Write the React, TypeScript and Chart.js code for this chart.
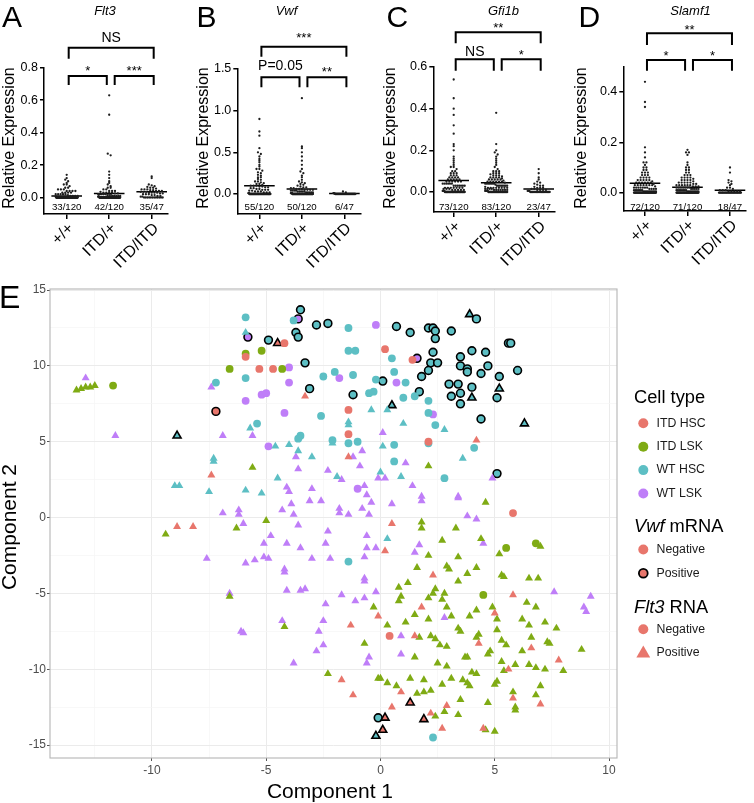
import React, { useEffect, useRef } from 'react';
import { Chart, registerables } from 'chart.js';
Chart.register(...registerables);

const FONT = '"Liberation Sans", Arial, Helvetica, sans-serif';
Chart.defaults.font.family = FONT;

// ---------------- Panels A-D : single-cell relative expression ----------------
const GENOTYPES = ['+/+', 'ITD/+', 'ITD/ITD'];

const A_WT = [0.14, 0.12, 0.11, 0.1, 0.09, 0.08, 0.08, 0.07, 0.06, 0.06, 0.05, 0.05, 0.05, 0.04, 0.04, 0.04, 0.04, 0.03, 0.03, 0.03, 0.03, 0.02, 0.02, 0.02, 0.02, 0.02, 0.015, 0.01, 0.01, 0.01, 0.01, 0.005, 0.005];
const A_HET = [0.63, 0.51, 0.27, 0.26, 0.16, 0.14, 0.12, 0.1, 0.09, 0.08, 0.07, 0.06, 0.06, 0.05, 0.05, 0.04, 0.04, 0.04, 0.035, 0.03, 0.03, 0.03, 0.03, 0.025, 0.025, 0.02, 0.02, 0.02, 0.02, 0.02, 0.015, 0.015, 0.015, 0.01, 0.01, 0.01, 0.01, 0.01, 0.005, 0.005, 0.005, 0.005];
const A_HOM = [0.13, 0.12, 0.08, 0.075, 0.07, 0.065, 0.06, 0.06, 0.055, 0.05, 0.05, 0.05, 0.045, 0.045, 0.04, 0.04, 0.04, 0.035, 0.035, 0.035, 0.03, 0.03, 0.03, 0.03, 0.025, 0.025, 0.02, 0.02, 0.02, 0.015, 0.015, 0.01, 0.01, 0.005, 0.005];
const A_ZEROS = [87, 78, 12];
const A_MEANS = [0.01, 0.025, 0.035];
const A_COUNTS = ['33/120', '42/120', '35/47'];
const A_TICKS = [0, 0.2, 0.4, 0.6, 0.8];

const B_WT = [0.9, 0.75, 0.7, 0.55, 0.5, 0.48, 0.45, 0.42, 0.4, 0.38, 0.35, 0.33, 0.3, 0.3, 0.28, 0.26, 0.25, 0.23, 0.22, 0.2, 0.2, 0.18, 0.17, 0.15, 0.15, 0.14, 0.13, 0.12, 0.12, 0.11, 0.1, 0.1, 0.1, 0.09, 0.09, 0.08, 0.08, 0.07, 0.07, 0.06, 0.06, 0.05, 0.05, 0.05, 0.04, 0.04, 0.03, 0.03, 0.03, 0.02, 0.02, 0.02, 0.01, 0.01, 0.01];
const B_HET = [1.15, 0.57, 0.55, 0.5, 0.45, 0.4, 0.35, 0.3, 0.27, 0.25, 0.22, 0.2, 0.17, 0.15, 0.14, 0.13, 0.12, 0.11, 0.1, 0.09, 0.08, 0.08, 0.07, 0.07, 0.06, 0.06, 0.06, 0.05, 0.05, 0.05, 0.05, 0.04, 0.04, 0.04, 0.04, 0.03, 0.03, 0.03, 0.03, 0.03, 0.02, 0.02, 0.02, 0.02, 0.02, 0.01, 0.01, 0.01, 0.01, 0.01];
const B_HOM = [0.03, 0.02, 0.01, 0.01, 0.005, 0.005];
const B_ZEROS = [65, 70, 41];
const B_MEANS = [0.1, 0.06, 0.005];
const B_COUNTS = ['55/120', '50/120', '6/47'];
const B_TICKS = [0, 0.5, 1.0, 1.5];

const C_WT = [0.54, 0.45, 0.4, 0.37, 0.32, 0.28, 0.23, 0.22, 0.2, 0.17, 0.16, 0.15, 0.14, 0.13, 0.12, 0.12, 0.11, 0.1, 0.1, 0.09, 0.09, 0.09, 0.08, 0.08, 0.08, 0.07, 0.07, 0.07, 0.07, 0.06, 0.06, 0.06, 0.06, 0.06, 0.05, 0.05, 0.05, 0.05, 0.05, 0.05, 0.04, 0.04, 0.04, 0.04, 0.04, 0.04, 0.03, 0.03, 0.03, 0.03, 0.03, 0.03, 0.03, 0.02, 0.02, 0.02, 0.02, 0.02, 0.02, 0.02, 0.015, 0.015, 0.015, 0.01, 0.01, 0.01, 0.01, 0.01, 0.005, 0.005, 0.005, 0.005, 0.005];
const C_HET = [0.38, 0.23, 0.2, 0.19, 0.18, 0.17, 0.16, 0.15, 0.14, 0.13, 0.12, 0.11, 0.1, 0.1, 0.1, 0.09, 0.09, 0.09, 0.085, 0.08, 0.08, 0.08, 0.075, 0.07, 0.07, 0.07, 0.07, 0.065, 0.06, 0.06, 0.06, 0.06, 0.06, 0.055, 0.05, 0.05, 0.05, 0.05, 0.05, 0.05, 0.045, 0.04, 0.04, 0.04, 0.04, 0.04, 0.04, 0.04, 0.035, 0.03, 0.03, 0.03, 0.03, 0.03, 0.03, 0.03, 0.03, 0.025, 0.02, 0.02, 0.02, 0.02, 0.02, 0.02, 0.02, 0.02, 0.015, 0.015, 0.015, 0.015, 0.01, 0.01, 0.01, 0.01, 0.01, 0.01, 0.01, 0.005, 0.005, 0.005, 0.005, 0.005, 0.005];
const C_HOM = [0.11, 0.09, 0.07, 0.06, 0.05, 0.045, 0.04, 0.035, 0.03, 0.03, 0.025, 0.02, 0.02, 0.02, 0.015, 0.015, 0.01, 0.01, 0.01, 0.01, 0.005, 0.005, 0.005];
const C_ZEROS = [47, 37, 24];
const C_MEANS = [0.055, 0.045, 0.015];
const C_COUNTS = ['73/120', '83/120', '23/47'];
const C_TICKS = [0, 0.2, 0.4, 0.6];

const D_WT = [0.44, 0.36, 0.34, 0.18, 0.16, 0.14, 0.12, 0.12, 0.11, 0.1, 0.1, 0.09, 0.09, 0.08, 0.08, 0.08, 0.07, 0.07, 0.07, 0.06, 0.06, 0.06, 0.06, 0.05, 0.05, 0.05, 0.05, 0.05, 0.045, 0.04, 0.04, 0.04, 0.04, 0.04, 0.04, 0.035, 0.03, 0.03, 0.03, 0.03, 0.03, 0.03, 0.03, 0.025, 0.02, 0.02, 0.02, 0.02, 0.02, 0.02, 0.02, 0.015, 0.015, 0.015, 0.015, 0.01, 0.01, 0.01, 0.01, 0.01, 0.01, 0.01, 0.005, 0.005, 0.005, 0.005, 0.005, 0.005, 0.005, 0.005, 0.005, 0.005];
const D_HET = [0.17, 0.16, 0.16, 0.15, 0.12, 0.11, 0.1, 0.1, 0.09, 0.09, 0.08, 0.08, 0.07, 0.07, 0.07, 0.06, 0.06, 0.06, 0.06, 0.055, 0.05, 0.05, 0.05, 0.05, 0.045, 0.04, 0.04, 0.04, 0.04, 0.04, 0.035, 0.035, 0.03, 0.03, 0.03, 0.03, 0.03, 0.03, 0.025, 0.025, 0.025, 0.02, 0.02, 0.02, 0.02, 0.02, 0.02, 0.02, 0.02, 0.015, 0.015, 0.015, 0.015, 0.015, 0.01, 0.01, 0.01, 0.01, 0.01, 0.01, 0.01, 0.01, 0.005, 0.005, 0.005, 0.005, 0.005, 0.005, 0.005, 0.005, 0.005];
const D_HOM = [0.1, 0.08, 0.05, 0.045, 0.04, 0.035, 0.03, 0.02, 0.02, 0.015, 0.01, 0.01, 0.01, 0.005, 0.005, 0.005, 0.005, 0.005];
const D_ZEROS = [48, 49, 29];
const D_MEANS = [0.038, 0.022, 0.01];
const D_COUNTS = ['72/120', '71/120', '18/47'];
const D_TICKS = [0, 0.2, 0.4];

// ---------------- Panel E : 2-D embedding of single cells ----------------
// [Component 1, Component 2]; CIRC = Flt3 RNA negative, TRI = Flt3 RNA positive, _VWF = Vwf mRNA positive
const ITD_HSC_CIRC = [[-5.9, 10.6], [-4.2, 11.5], [-5.3, 9.8], [-4.7, 9.8], [-1.4, 7.1], [-1.4, 5.5], [0.2, 11.1], [1.4, 10.4], [2.1, 5.0], [5.8, 0.3], [0.4, -7.8]];
const ITD_HSC_CIRC_VWF = [[-7.2, 7.0]];
const ITD_HSC_TRI = [[-8.9, -0.6], [-8.2, -0.6], [-7.4, 2.8], [-3.3, 8.0], [-1.4, 4.0], [4.2, 5.1], [0.5, -0.4], [-1.3, -7.1], [-0.1, -6.5], [-1.7, -10.7], [-1.2, -11.7], [0.2, -2.2], [2.3, -3.8], [5.8, -5.1], [1.8, -5.9], [5.0, -6.3], [1.5, -7.8], [4.3, -8.3], [6.6, -8.6], [5.6, -10.0], [7.8, -9.4], [0.9, -11.5], [7.0, -12.3], [5.8, -11.9], [0.5, -12.5], [2.9, -12.4], [2.2, -12.9], [2.7, -13.9], [4.5, -13.9]];
const ITD_HSC_TRI_VWF = [[-4.5, 11.5], [1.3, -12.2], [1.9, -13.3], [0.2, -13.2], [0.1, -14.0]];

const ITD_LSK_CIRC = [[-11.7, 8.7], [-6.6, 9.8], [-5.9, 10.8], [-5.2, 11.0], [-4.3, 9.8], [5.5, -2.0], [6.8, -1.7], [4.5, -5.1]];
const ITD_LSK_TRI = [[-13.3, 8.4], [-13.1, 8.5], [-12.9, 8.6], [-12.7, 8.6], [-12.5, 8.7], [-9.4, -1.1], [-6.3, -0.7], [-5.6, 3.3], [-5.0, -0.2], [2.1, 3.4], [4.6, 1.0], [1.8, -0.3], [1.8, -0.7], [3.3, -0.7], [-0.3, -5.9], [-6.6, -5.2], [-4.2, -7.2], [-0.7, -8.3], [-2.3, -10.3], [-0.1, -10.6], [2.7, -1.5], [4.4, -1.4], [7.0, -1.9], [5.2, -2.4], [2.1, -2.5], [3.4, -2.6], [1.6, -3.3], [2.9, -3.2], [3.0, -3.4], [4.2, -3.3], [3.8, -3.7], [5.3, -3.8], [5.4, -3.9], [6.5, -4.0], [6.9, -4.0], [1.2, -4.3], [0.8, -4.6], [0.9, -5.2], [0.8, -5.5], [3.4, -4.2], [2.4, -4.7], [2.3, -5.0], [2.8, -5.0], [2.7, -5.4], [2.1, -5.3], [2.9, -5.9], [0.3, -7.1], [1.1, -6.9], [1.5, -6.4], [2.1, -6.7], [3.1, -6.5], [3.9, -6.5], [4.2, -6.1], [4.9, -5.9], [5.1, -6.7], [6.2, -6.7], [6.4, -5.6], [6.8, -5.9], [6.5, -7.1], [7.2, -6.9], [7.7, -7.3], [3.4, -7.3], [3.5, -7.5], [5.1, -7.4], [1.7, -7.9], [2.2, -7.8], [2.4, -8.0], [2.6, -8.4], [2.9, -8.5], [4.2, -7.9], [4.3, -7.7], [5.3, -8.1], [5.5, -8.4], [4.7, -9.0], [4.8, -8.8], [6.2, -8.8], [6.6, -7.9], [7.3, -8.2], [7.4, -8.3], [8.8, -8.7], [1.5, -9.2], [2.5, -9.6], [2.9, -9.8], [3.7, -9.2], [3.8, -9.2], [4.0, -10.2], [4.2, -10.3], [5.3, -9.5], [5.4, -10.1], [5.9, -9.7], [6.5, -9.7], [6.8, -9.9], [7.2, -10.0], [8.0, -10.1], [0.0, -10.6], [0.3, -10.9], [0.7, -11.1], [1.3, -10.6], [1.9, -10.7], [1.6, -11.6], [1.9, -11.5], [2.2, -11.4], [2.7, -11.0], [3.1, -10.6], [3.6, -10.7], [3.8, -10.9], [3.9, -11.1], [5.0, -11.0], [5.1, -10.8], [7.0, -11.1], [6.8, -11.7], [5.8, -11.5], [5.9, -12.5], [5.9, -12.7], [4.7, -12.2], [3.5, -12.0], [2.8, -12.8], [2.4, -13.1], [3.4, -13.0], [4.6, -14.0], [5.0, -14.1]];

const WT_HSC_CIRC = [[-7.2, 8.9], [-5.9, 13.2], [-5.9, 9.2], [-5.4, 6.2], [-3.8, 13.0], [-3.5, 5.4], [-3.6, 5.2], [-2.6, 6.7], [-2.5, 9.3], [-2.0, 9.6], [-2.1, 5.1], [-1.4, 12.5], [-1.4, 11.0], [-1.1, 11.0], [-1.2, 9.4], [-1.4, 4.9], [-1.0, 5.0], [-0.2, 9.1], [-0.5, 8.2], [-0.3, 8.3], [0.5, 10.5], [0.6, 9.6], [1.1, 8.9], [1.0, 7.9], [1.5, 8.0], [2.1, 7.7], [2.1, 6.9], [2.4, 6.1], [0.6, 4.8], [2.1, 4.9], [4.1, 4.6], [0.6, 3.7], [2.8, 2.6], [-1.4, -2.9], [2.3, -14.5]];
const WT_HSC_CIRC_VWF = [[-4.9, 11.7], [-3.5, 13.7], [-3.7, 12.2], [-3.6, 11.9], [-3.3, 10.2], [-3.1, 8.5], [-2.8, 12.7], [-2.3, 12.8], [-1.2, 8.1], [0.7, 12.6], [1.3, 12.2], [2.1, 12.5], [2.3, 12.5], [2.4, 12.3], [2.4, 11.8], [3.1, 12.3], [4.2, 13.1], [5.6, 11.5], [5.7, 11.5], [2.3, 10.9], [2.2, 10.2], [2.5, 10.2], [2.1, 9.7], [1.8, 9.3], [1.7, 8.3], [3.5, 10.6], [3.5, 10.0], [3.8, 9.8], [3.8, 9.6], [4.0, 11.0], [4.6, 10.9], [4.4, 9.5], [4.7, 10.0], [5.2, 9.3], [6.0, 9.7], [3.0, 8.8], [3.4, 8.8], [3.1, 8.0], [3.5, 8.2], [3.5, 7.5], [4.0, 8.6], [5.1, 7.9], [4.4, 6.5], [5.1, 2.9], [0.1, 9.0], [-0.1, -13.2]];
const WT_HSC_TRI = [[-9.0, 2.1], [-8.8, 2.1], [-7.3, 3.9], [-7.3, 3.7], [-7.5, 1.7], [-5.9, 12.2], [-5.7, 5.9], [-5.9, 1.8], [-5.2, 1.6], [-4.0, 4.8], [-4.6, 4.7], [-3.6, 4.4], [-3.0, 4.0], [-4.5, 2.6], [-2.1, 4.9], [-1.9, 2.7], [-1.4, 6.3], [-1.4, 6.1], [-0.4, 7.1], [0.3, 7.1], [2.8, 5.8], [1.0, 6.2], [0.1, 4.7], [3.6, 3.9], [0.9, 2.7], [0.0, 3.0], [0.3, -1.4]];
const WT_HSC_TRI_VWF = [[-8.9, 5.4], [3.9, 13.4], [4.0, 7.9], [5.2, 8.5], [6.3, 6.2], [0.5, 7.4], [-0.2, -14.4]];

const WT_LSK_CIRC = [[-5.9, 7.7], [-4.0, 9.9], [-4.0, 8.9], [-5.2, 8.1], [-5.0, 8.2], [-4.2, 6.9], [-4.9, 4.7], [-1.8, 9.2], [-1.0, 1.9], [-0.2, 12.7], [0.7, 8.9], [2.3, 6.8]];
const WT_LSK_CIRC_VWF = [[-5.8, 11.9], [-3.6, 13.1], [1.6, 10.5]];
const WT_LSK_TRI = [[-12.9, 9.2], [-11.6, 5.4], [-7.4, 8.6], [-6.9, 5.4], [-6.9, 0.3], [-6.2, 0.5], [-6.2, 0.2], [-6.0, -0.4], [-5.6, 5.4], [-4.8, -1.2], [-3.7, 4.0], [-3.6, 3.2], [-4.1, 2.0], [-4.0, 1.7], [-3.0, 1.9], [-3.1, 1.1], [-2.6, 1.1], [-4.3, 0.5], [-3.9, 0.9], [-3.8, 0.2], [-3.6, -0.5], [-2.3, -0.9], [-2.3, 3.1], [-1.7, 2.5], [-1.8, 0.6], [-1.8, 0.3], [-1.2, 4.0], [-0.8, 4.4], [-0.9, 3.4], [-0.7, 2.1], [-0.6, 1.5], [-1.4, 0.2], [-0.8, 0.6], [-0.5, 0.2], [-0.6, -1.2], [-0.1, 2.6], [0.1, 5.6], [1.1, 3.6], [0.2, 2.6], [4.9, 2.6], [1.4, 2.1], [1.8, 1.4], [1.8, 1.1], [3.4, 1.4], [3.4, 1.3], [0.5, 0.9], [3.8, 0.1], [4.2, -0.1], [-0.4, 1.0], [-7.6, -2.7], [-5.9, -3.0], [-5.5, -2.8], [-5.1, -2.6], [-4.9, -2.7], [-5.1, -1.7], [-4.1, -1.7], [-3.5, -2.0], [-3.0, -2.7], [-2.2, -2.7], [-2.4, -1.7], [-4.2, -3.4], [-4.2, -3.6], [-4.1, -4.8], [-3.5, -4.8], [-3.3, -4.7], [-2.4, -5.7], [-1.7, -5.1], [-1.1, -5.5], [-0.7, -5.3], [-0.2, -4.9], [-0.7, -4.0], [-0.7, -4.2], [-0.7, -2.6], [-0.6, -2.0], [-0.2, -2.0], [-6.6, -5.0], [-6.0, -7.6], [-6.1, -7.5], [-4.3, -6.8], [-2.7, -7.5], [-2.5, -6.8], [-2.5, -8.4], [-2.8, -8.8], [-3.8, -9.6], [-0.5, -9.2], [-0.6, -9.6], [1.5, -2.3], [1.7, -1.8], [4.5, -1.7], [7.6, -4.9], [9.2, -5.2], [8.9, -5.9], [9.0, -6.2], [2.8, -6.6], [0.9, -7.8], [0.9, -9.0]];

const CELL_TYPES = ['ITD HSC', 'ITD LSK', 'WT HSC', 'WT LSK'];
const CELL_COLORS = ['#E8766C', '#7FAB14', '#5DBFC4', '#BF7EF8'];
const E_X_MAJOR = [-10, -5, 0, 5, 10];
const E_X_MINOR = [-12.5, -7.5, -2.5, 2.5, 7.5];
const E_Y_MAJOR = [-15, -10, -5, 0, 5, 10, 15];
const E_Y_MINOR = [-12.5, -7.5, -2.5, 2.5, 7.5, 12.5];

// ---------------- helpers ----------------
const CAT_PX = 42.5;

function swarm(values: number[], zeros: number, cat: number, pxY: number) {
  const all = values.concat(new Array(zeros).fill(0));
  const bins = new Map<number, number[]>();
  for (const v of all) {
    const b = Math.round((v * pxY) / 2.4);
    if (!bins.has(b)) bins.set(b, []);
    bins.get(b)!.push(v);
  }
  const pts: { x: number; y: number }[] = [];
  bins.forEach((arr) => {
    const n = arr.length;
    const sp = n > 1 ? Math.min(2.9, 22 / (n - 1)) : 0;
    arr.forEach((v, k) => pts.push({ x: cat + ((k - (n - 1) / 2) * sp) / CAT_PX, y: v }));
  });
  return pts;
}

type Bracket = { a: number; b: number; y: number; leg: number; t: string; ty: number };
type TopCfg = {
  left: number; width: number; axisLeft: number; top: number; bottom: number;
  xMin: number; yMin: number; yMax: number; ticks: number[];
  groups: number[][]; zeros: number[]; means: number[]; counts: string[];
  letter: string; letterX: number; gene: string; geneX: number; titleX: number;
  brackets: Bracket[];
};

const TOP_PANELS: TopCfg[] = [
  {
    left: 0, width: 188, axisLeft: 44, top: 67.7, bottom: 214, xMin: -0.534, yMin: -0.1017, yMax: 0.8, ticks: A_TICKS,
    groups: [A_WT, A_HET, A_HOM], zeros: A_ZEROS, means: A_MEANS, counts: A_COUNTS,
    letter: 'A', letterX: 2, gene: 'Flt3', geneX: 105, titleX: 10,
    brackets: [
      { a: 0, b: 2, y: 47.7, leg: 11, t: 'NS', ty: 38 },
      { a: 0, b: 1, y: 76, leg: 9, t: '*', ty: 68 },
      { a: 1, b: 2, y: 76, leg: 9, t: '***', ty: 68 },
    ],
  },
  {
    left: 190, width: 185, axisLeft: 47.3, top: 69, bottom: 214, xMin: -0.52, yMin: -0.24, yMax: 1.5, ticks: B_TICKS,
    groups: [B_WT, B_HET, B_HOM], zeros: B_ZEROS, means: B_MEANS, counts: B_COUNTS,
    letter: 'B', letterX: 6.5, gene: 'Vwf', geneX: 96.5, titleX: 14,
    brackets: [
      { a: 0, b: 2, y: 46.7, leg: 10, t: '***', ty: 35 },
      { a: 0, b: 1, y: 77.3, leg: 10, t: 'P=0.05', ty: 66 },
      { a: 1, b: 2, y: 77.3, leg: 10, t: '**', ty: 69 },
    ],
  },
  {
    left: 380, width: 185, axisLeft: 53.3, top: 67, bottom: 212, xMin: -0.48, yMin: -0.096, yMax: 0.6, ticks: C_TICKS,
    groups: [C_WT, C_HET, C_HOM], zeros: C_ZEROS, means: C_MEANS, counts: C_COUNTS,
    letter: 'C', letterX: 6.5, gene: 'Gfi1b', geneX: 123.5, titleX: 11,
    brackets: [
      { a: 0, b: 2, y: 32.3, leg: 11, t: '**', ty: 25 },
      { a: 0, b: 1, y: 59.3, leg: 11.4, t: 'NS', ty: 52.5 },
      { a: 1, b: 2, y: 59.3, leg: 11.4, t: '*', ty: 52 },
    ],
  },
  {
    left: 565, width: 189, axisLeft: 58.3, top: 66.7, bottom: 211, xMin: -0.51, yMin: -0.0726, yMax: 0.5, ticks: D_TICKS,
    groups: [D_WT, D_HET, D_HOM], zeros: D_ZEROS, means: D_MEANS, counts: D_COUNTS,
    letter: 'D', letterX: 13.5, gene: 'Slamf1', geneX: 125.5, titleX: 17,
    brackets: [
      { a: 0, b: 2, y: 33.3, leg: 11.7, t: '**', ty: 27 },
      { a: 0, b: 1, y: 60, leg: 10.7, t: '*', ty: 53 },
      { a: 1, b: 2, y: 60, leg: 10.7, t: '*', ty: 53 },
    ],
  },
];

function buildTop(cfg: TopCfg): any {
  const xMax = 2.38;
  const plotW = (xMax - cfg.xMin) * CAT_PX;
  const pxY = (cfg.bottom - cfg.top) / (cfg.yMax - cfg.yMin);
  const datasets: any[] = [];
  cfg.groups.forEach((vals, i) => {
    datasets.push({
      data: swarm(vals, cfg.zeros[i], i, pxY),
      pointRadius: 1.15, pointBackgroundColor: '#1e1e1e', pointBorderWidth: 0, showLine: false,
    });
  });
  cfg.means.forEach((m, i) => {
    datasets.push({
      data: [{ x: i - 0.36, y: m }, { x: i + 0.36, y: m }],
      showLine: true, borderColor: '#000', borderWidth: 1.5, pointRadius: 0,
    });
  });

  const deco = {
    id: 'deco',
    afterDraw(chart: any) {
      const ctx = chart.ctx;
      const xs = chart.scales.x;
      ctx.save();
      ctx.fillStyle = '#000';
      ctx.strokeStyle = '#000';
      // letter
      ctx.font = `30px ${FONT}`;
      ctx.textAlign = 'left';
      ctx.textBaseline = 'alphabetic';
      ctx.fillText(cfg.letter, cfg.letterX, 27);
      // gene title
      ctx.font = `italic 13px ${FONT}`;
      ctx.textAlign = 'center';
      ctx.fillText(cfg.gene, cfg.geneX, 15);
      // y title
      ctx.save();
      ctx.translate(cfg.titleX, 138);
      ctx.rotate(-Math.PI / 2);
      ctx.font = `16px ${FONT}`;
      ctx.textBaseline = 'middle';
      ctx.fillText('Relative Expression', 0, 0);
      ctx.restore();
      // rotated genotype labels
      ctx.font = `16px ${FONT}`;
      ctx.textAlign = 'right';
      ctx.textBaseline = 'middle';
      GENOTYPES.forEach((g, i) => {
        ctx.save();
        ctx.translate(xs.getPixelForValue(i) + 4.5, cfg.bottom + 12);
        ctx.rotate(-Math.PI / 4);
        ctx.fillText(g, 0, 0);
        ctx.restore();
      });
      // counts
      ctx.textAlign = 'center';
      ctx.font = `9.7px ${FONT}`;
      ctx.textBaseline = 'middle';
      cfg.counts.forEach((c, i) => ctx.fillText(c, xs.getPixelForValue(i), 207));
      // brackets
      ctx.lineWidth = 2;
      ctx.lineJoin = 'miter';
      cfg.brackets.forEach((br) => {
        const x1 = xs.getPixelForValue(br.a) + (br.a === 1 ? 5.5 : 2);
        const x2 = xs.getPixelForValue(br.b) + (br.b === 1 ? -2.4 : 2);
        ctx.beginPath();
        ctx.moveTo(x1, br.y + br.leg);
        ctx.lineTo(x1, br.y);
        ctx.lineTo(x2, br.y);
        ctx.lineTo(x2, br.y + br.leg);
        ctx.stroke();
        const mx = (x1 + x2) / 2;
        if (br.t.startsWith('*')) {
          ctx.font = `13px ${FONT}`;
          ctx.textBaseline = 'alphabetic';
          ctx.fillText(br.t, mx, br.ty + 7.2);
        } else {
          ctx.font = `14px ${FONT}`;
          ctx.textBaseline = 'middle';
          ctx.fillText(br.t, mx, br.ty);
        }
      });
      ctx.restore();
    },
  };

  return {
    type: 'scatter',
    data: { datasets },
    options: {
      responsive: false, animation: false, devicePixelRatio: 1, events: [],
      layout: { padding: { left: 0, top: cfg.top, right: cfg.width - cfg.axisLeft - plotW, bottom: 0 } },
      plugins: { legend: { display: false }, tooltip: { enabled: false } },
      scales: {
        x: {
          type: 'linear', min: cfg.xMin, max: xMax,
          afterBuildTicks: (s: any) => { s.ticks = GENOTYPES.map((_, i) => ({ value: i })); },
          afterFit: (s: any) => { s.height = 270 - cfg.bottom; },
          grid: { drawOnChartArea: false, drawTicks: true, tickLength: 5, color: '#000', lineWidth: 1.5 },
          border: { display: true, color: '#000', width: 1.5 },
          ticks: { display: false, autoSkip: false },
        },
        y: {
          type: 'linear', min: cfg.yMin, max: cfg.yMax,
          afterBuildTicks: (s: any) => { s.ticks = cfg.ticks.map((v) => ({ value: v })); },
          afterFit: (s: any) => { s.width = cfg.axisLeft; },
          grid: { drawOnChartArea: false, drawTicks: true, tickLength: 4, color: '#000', lineWidth: 1.5 },
          border: { display: true, color: '#000', width: 1.5 },
          ticks: {
            color: '#000', padding: 2, font: { size: 12.5, family: FONT },
            callback: (v: number) => v.toFixed(1),
          },
        },
      },
    },
    plugins: [deco],
  };
}

function pts(a: number[][]) {
  return a.map(([x, y]) => ({ x, y }));
}

function buildE(): any {
  const plain = [
    [ITD_HSC_CIRC, ITD_HSC_TRI],
    [ITD_LSK_CIRC, ITD_LSK_TRI],
    [WT_HSC_CIRC, WT_HSC_TRI],
    [WT_LSK_CIRC, WT_LSK_TRI],
  ];
  const vwf = [
    [ITD_HSC_CIRC_VWF, ITD_HSC_TRI_VWF],
    [[], []],
    [WT_HSC_CIRC_VWF, WT_HSC_TRI_VWF],
    [WT_LSK_CIRC_VWF, []],
  ];
  const datasets: any[] = [];
  const mk = (label: string, data: number[][], color: string, tri: boolean, pos: boolean) => ({
    label, data: pts(data), showLine: false,
    pointStyle: tri ? 'triangle' : 'circle',
    pointRadius: tri ? 4.6 : 3.9,
    pointBackgroundColor: color,
    pointBorderColor: pos ? '#000' : color,
    pointBorderWidth: pos ? 1.6 : 0,
  });
  plain.forEach(([c, t], i) => {
    datasets.push(mk(CELL_TYPES[i], c, CELL_COLORS[i], false, false));
    datasets.push(mk(CELL_TYPES[i], t, CELL_COLORS[i], true, false));
  });
  vwf.forEach(([c, t], i) => {
    datasets.push(mk(CELL_TYPES[i], c, CELL_COLORS[i], false, true));
    datasets.push(mk(CELL_TYPES[i], t, CELL_COLORS[i], true, true));
  });

  const isMajorX = (v: number) => E_X_MAJOR.includes(v);
  const isMajorY = (v: number) => E_Y_MAJOR.includes(v);

  const deco = {
    id: 'decoE',
    afterDraw(chart: any) {
      const ctx = chart.ctx;
      const a = chart.chartArea;
      ctx.save();
      // panel border
      ctx.strokeStyle = '#b5b5b5';
      ctx.lineWidth = 1.1;
      ctx.strokeRect(a.left, a.top, a.right - a.left, a.bottom - a.top);
      // letter
      ctx.fillStyle = '#000';
      ctx.font = `32px ${FONT}`;
      ctx.textAlign = 'left';
      ctx.textBaseline = 'alphabetic';
      ctx.fillText('E', -1, 43);
      // axis titles
      ctx.font = `21px ${FONT}`;
      ctx.textAlign = 'center';
      ctx.textBaseline = 'middle';
      ctx.fillText('Component 1', 330, 527);
      ctx.save();
      ctx.translate(10, 262);
      ctx.rotate(-Math.PI / 2);
      ctx.fillText('Component 2', 0, 0);
      ctx.restore();
      // legend
      const tx = 634, mx = 643.3, lx = 656.5;
      const title = (parts: [string, boolean][], y: number) => {
        let x = tx;
        ctx.textAlign = 'left';
        ctx.textBaseline = 'middle';
        ctx.fillStyle = '#000';
        parts.forEach(([s, it]) => {
          ctx.font = `${it ? 'italic ' : ''}18.3px ${FONT}`;
          ctx.fillText(s, x, y);
          x += ctx.measureText(s).width;
        });
      };
      const label = (s: string, y: number) => {
        ctx.font = `12.3px ${FONT}`;
        ctx.fillStyle = '#1a1a1a';
        ctx.textAlign = 'left';
        ctx.textBaseline = 'middle';
        ctx.fillText(s, lx, y);
      };
      const circle = (y: number, col: string, outline: boolean) => {
        ctx.beginPath();
        ctx.arc(mx, y, outline ? 4.4 : 5, 0, Math.PI * 2);
        ctx.fillStyle = col;
        ctx.fill();
        if (outline) { ctx.lineWidth = 1.8; ctx.strokeStyle = '#000'; ctx.stroke(); }
      };
      const triangle = (y: number, col: string) => {
        const r = 8;
        ctx.beginPath();
        ctx.moveTo(mx, y - r);
        ctx.lineTo(mx + r * 0.866, y + r / 2);
        ctx.lineTo(mx - r * 0.866, y + r / 2);
        ctx.closePath();
        ctx.fillStyle = col;
        ctx.fill();
      };
      title([['Cell type', false]], 133);
      CELL_TYPES.forEach((t, i) => {
        const y = 158.3 + i * 23.4;
        circle(y, CELL_COLORS[i], false);
        label(t, y);
      });
      title([['Vwf', true], [' mRNA', false]], 262);
      circle(284.5, CELL_COLORS[0], false); label('Negative', 284.5);
      circle(308.3, CELL_COLORS[0], true); label('Positive', 308.3);
      title([['Flt3', true], [' RNA', false]], 343.3);
      circle(364.3, CELL_COLORS[0], false); label('Negative', 364.3);
      triangle(388.5, CELL_COLORS[0]); label('Positive', 387.7);
      ctx.restore();
    },
  };

  return {
    type: 'scatter',
    data: { datasets },
    options: {
      responsive: false, animation: false, devicePixelRatio: 1, events: [],
      layout: { padding: { left: 0, top: 24, right: 137, bottom: 0 } },
      plugins: { legend: { display: false }, tooltip: { enabled: false } },
      scales: {
        x: {
          type: 'linear', min: -14.46, max: 10.35,
          afterBuildTicks: (s: any) => { s.ticks = [...E_X_MAJOR, ...E_X_MINOR].sort((p, q) => p - q).map((v) => ({ value: v })); },
          afterFit: (s: any) => { s.height = 45; },
          grid: {
            color: (c: any) => (isMajorX(c.tick?.value) ? '#ebebeb' : '#f5f5f5'),
            lineWidth: (c: any) => (isMajorX(c.tick?.value) ? 1 : 0.7),
            tickColor: (c: any) => (isMajorX(c.tick?.value) ? '#555' : 'rgba(0,0,0,0)'),
            tickLength: 3, drawTicks: true,
          },
          border: { display: false },
          ticks: {
            autoSkip: false, maxRotation: 0, color: '#4d4d4d', padding: 2, font: { size: 12, family: FONT },
            callback: (v: number) => (isMajorX(v) ? String(v) : ''),
          },
        },
        y: {
          type: 'linear', min: -15.85, max: 15.07,
          afterBuildTicks: (s: any) => { s.ticks = [...E_Y_MAJOR, ...E_Y_MINOR].sort((p, q) => p - q).map((v) => ({ value: v })); },
          afterFit: (s: any) => { s.width = 50; },
          grid: {
            color: (c: any) => (isMajorY(c.tick?.value) ? '#ebebeb' : '#f5f5f5'),
            lineWidth: (c: any) => (isMajorY(c.tick?.value) ? 1 : 0.7),
            tickColor: (c: any) => (isMajorY(c.tick?.value) ? '#555' : 'rgba(0,0,0,0)'),
            tickLength: 3, drawTicks: true,
          },
          border: { display: false },
          ticks: {
            autoSkip: false, color: '#4d4d4d', padding: 1, font: { size: 12, family: FONT },
            callback: (v: number) => (isMajorY(v) ? String(v) : ''),
          },
        },
      },
    },
    plugins: [deco],
  };
}

function TopPanel({ cfg }: { cfg: TopCfg }) {
  const ref = useRef<HTMLCanvasElement>(null);
  useEffect(() => {
    const chart = new Chart(ref.current as HTMLCanvasElement, buildTop(cfg));
    return () => chart.destroy();
  }, [cfg]);
  return (
    <canvas
      ref={ref}
      width={cfg.width}
      height={270}
      style={{ position: 'absolute', left: cfg.left, top: 0, width: cfg.width, height: 270 }}
    />
  );
}

function PanelE() {
  const ref = useRef<HTMLCanvasElement>(null);
  useEffect(() => {
    const chart = new Chart(ref.current as HTMLCanvasElement, buildE());
    return () => chart.destroy();
  }, []);
  return (
    <canvas
      ref={ref}
      width={754}
      height={538}
      style={{ position: 'absolute', left: 0, top: 265, width: 754, height: 538 }}
    />
  );
}

export default function App() {
  return (
    <div style={{ position: 'absolute', left: 0, top: 0, width: 754, height: 803, background: '#fff', overflow: 'hidden' }}>
      {TOP_PANELS.map((cfg) => (
        <TopPanel key={cfg.letter} cfg={cfg} />
      ))}
      <PanelE />
    </div>
  );
}
